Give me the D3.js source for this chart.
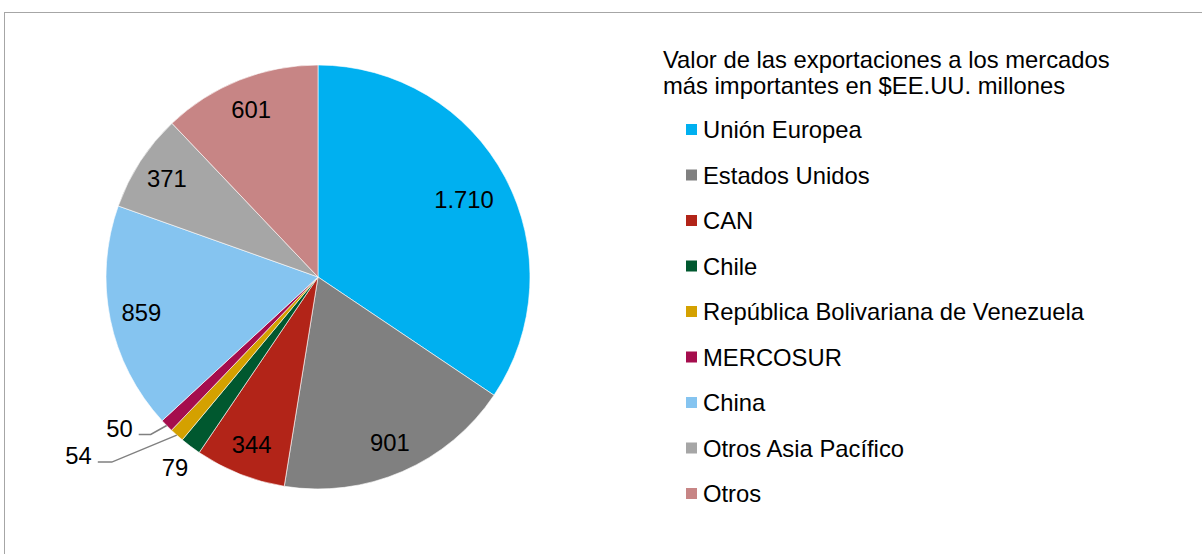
<!DOCTYPE html>
<html>
<head>
<meta charset="utf-8">
<script src="https://cdn.jsdelivr.net/npm/d3@7"></script>
<style>
  html, body { margin: 0; padding: 0; background: #fff; }
  svg { display: block; font-family: "Liberation Sans", Arial, sans-serif; }
</style>
</head>
<body>
<div id="chart"></div>
<script>
var categories = ['Unión Europea', 'Estados Unidos', 'CAN', 'Chile',
  'República Bolivariana de Venezuela', 'MERCOSUR', 'China',
  'Otros Asia Pacífico', 'Otros'];
var values = [1710, 901, 344, 79, 54, 50, 859, 371, 601];
var valueLabels = ['1.710', '901', '344', '79', '54', '50', '859', '371', '601'];
var colors = ['#00b0f0', '#808080', '#b22418', '#00582f', '#d4a100',
  '#a50d4d', '#85c4f0', '#a6a6a6', '#c78585'];
var legendTitle = ['Valor de las exportaciones a los mercados',
  'más importantes en $EE.UU. millones'];

var width = 1202;
var height = 554;
var cx = 318;
var cy = 277;
var radius = 212;
var fontSize = '23.8px';

var svg = d3.select('#chart')
  .append('svg')
  .attr('width', width)
  .attr('height', height);

// chart area frame
svg.append('rect')
  .attr('x', 4.5)
  .attr('y', 12.5)
  .attr('width', 1400)
  .attr('height', 800)
  .attr('fill', 'none')
  .attr('stroke', '#a6a6a6')
  .attr('stroke-width', 1);

var data = categories.map(function(name, i) {
  return { name: name, value: values[i], label: valueLabels[i], color: colors[i] };
});

var pie = d3.pie()
  .sort(null)
  .value(function(d) { return d.value; });

var arcs = pie(data);

var arc = d3.arc()
  .innerRadius(0)
  .outerRadius(radius);

var g = svg.append('g')
  .attr('transform', 'translate(' + cx + ',' + cy + ')');

g.selectAll('path.slice')
  .data(arcs)
  .enter()
  .append('path')
  .attr('class', 'slice')
  .attr('d', arc)
  .attr('fill', function(d) { return d.data.color; })
  .attr('stroke', '#ffffff')
  .attr('stroke-width', 0.6);

function polar(angle, r) {
  return [Math.sin(angle) * r, -Math.cos(angle) * r];
}

function midAngle(d) {
  return (d.startAngle + d.endAngle) / 2;
}

// leader-line placement for the two tiny slices (elbow offset from slice edge)
var leaders = {
  'MERCOSUR': { elbow: [-16, 9], run: 12 },
  'República Bolivariana de Venezuela': { elbow: [-65, 27], run: 14 }
};

arcs.forEach(function(d) {
  var a = midAngle(d);
  var share = (d.endAngle - d.startAngle) / (2 * Math.PI);
  var text = g.append('text')
    .attr('font-size', fontSize)
    .attr('fill', '#000')
    .attr('dy', '0.35em')
    .text(d.data.label);

  var leader = leaders[d.data.name];
  if (leader) {
    var edge = polar(a, radius);
    var elbow = [edge[0] + leader.elbow[0], edge[1] + leader.elbow[1]];
    var end = [elbow[0] - leader.run, elbow[1]];
    g.append('polyline')
      .attr('points', [edge, elbow, end].map(function(p) { return p.join(','); }).join(' '))
      .attr('fill', 'none')
      .attr('stroke', '#808080')
      .attr('stroke-width', 1.5);
    text.attr('x', end[0] - 6)
      .attr('y', end[1] - 6)
      .attr('text-anchor', 'end');
  } else if (share < 0.02) {
    var p = polar(a, radius + 26);
    text.attr('x', p[0]).attr('y', p[1]).attr('text-anchor', 'middle');
  } else {
    var lr = share > 0.3 ? radius * 0.78 : radius * 0.85;
    var q = polar(a, lr);
    text.attr('x', q[0]).attr('y', q[1]).attr('text-anchor', 'middle');
  }
});

// legend
var legend = svg.append('g')
  .attr('transform', 'translate(663,0)');

legend.selectAll('text.title')
  .data(legendTitle)
  .enter()
  .append('text')
  .attr('class', 'title')
  .attr('x', 0)
  .attr('y', function(d, i) { return 68 + i * 26; })
  .attr('font-size', fontSize)
  .attr('fill', '#000')
  .text(function(d) { return d; });

var items = legend.selectAll('g.item')
  .data(data)
  .enter()
  .append('g')
  .attr('class', 'item')
  .attr('transform', function(d, i) { return 'translate(0,' + (130 + i * 45.5) + ')'; });

items.append('rect')
  .attr('x', 23)
  .attr('y', -6)
  .attr('width', 11)
  .attr('height', 11)
  .attr('fill', function(d) { return d.color; });

items.append('text')
  .attr('x', 40)
  .attr('y', 0)
  .attr('dy', '0.35em')
  .attr('font-size', fontSize)
  .attr('fill', '#000')
  .text(function(d) { return d.name; });
</script>
</body>
</html>
